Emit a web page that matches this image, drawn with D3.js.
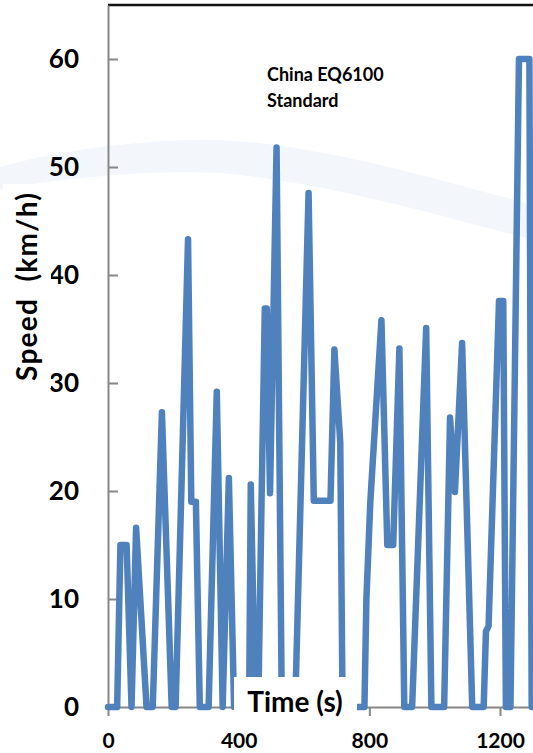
<!DOCTYPE html>
<html>
<head>
<meta charset="utf-8">
<script src="https://cdn.jsdelivr.net/npm/d3@7"></script>
<style>
  body { margin: 0; background: #fff; }
  text { font-family: Lato, "Open Sans", sans-serif; font-weight: bold; }
</style>
</head>
<body>
<div id="chart"></div>
<script>
/* China EQ6100 drive cycle: speed vs time */

// data
const timeS = [0, 28, 38, 57, 72, 86, 118, 137, 165, 195, 207, 245, 255, 269, 281, 308, 333, 351, 370, 386,
    432, 437, 451, 460, 470, 480, 486, 496, 516, 532, 573, 614, 630, 681, 693, 711, 718, 785, 791, 803,
    837, 855, 873, 892, 907, 931, 974, 990, 1029, 1047, 1062, 1084, 1115, 1150, 1157, 1165, 1197, 1210, 1218, 1232,
    1258, 1290, 1297, 1320];
const speedKmh = [0, 0, 15, 15, 0, 16.6, 0, 0, 27.3, 0, 0, 43.3, 19, 19, 0, 0, 29.2, 0, 21.2, 0,
    0, 20.6, 0, 0, 19, 36.9, 36.9, 19.8, 51.8, 0, 0, 47.6, 19.1, 19.1, 33.1, 24.5, 0, 0, 10, 19,
    35.8, 15, 15, 33.2, 0, 0, 35.1, 0, 0, 26.8, 19.9, 33.7, 0, 0, 7, 7.5, 37.6, 37.6, 0, 0,
    60, 60, 0, 0];
const xTicks = [0, 400, 800, 1200];
const yTicks = [0, 10, 20, 30, 40, 50, 60];
const titleLines = ["China EQ6100", "Standard"];

const data = timeS.map((t, i) => ({ t: t, v: speedKmh[i] }));

const width = 533,
      height = 753;

let svg = d3.select("#chart")
    .append("svg")
    .attr("width", width)
    .attr("height", height);

let x = d3.scaleLinear()
    .domain([0, 1400])
    .range([108, 108 + 1400 * 0.32667]); // plot runs off the right edge

let y = d3.scaleLinear()
    .domain([0, 65])
    .range([707, 5]);

// faint watermark swoosh in the background
svg.append("path")
    .attr("d", "M0,167 C60,150 150,138 220,140 C320,145 420,175 533,205 L533,240 C420,210 320,182 220,173 C150,170 60,178 0,190 Z")
    .attr("fill", "#eef3f9")
    .attr("opacity", 0.7);

// top border
svg.append("line")
    .attr("x1", x(0)).attr("x2", width + 20)
    .attr("y1", y(65)).attr("y2", y(65))
    .attr("stroke", "#111")
    .attr("stroke-width", 2.5);

// axes
let yAxis = svg.append("g")
    .attr("transform", `translate(${x(0)},0)`)
    .call(d3.axisLeft(y).tickValues(yTicks).tickSize(-10).tickSizeOuter(0).tickPadding(29));

let xAxis = svg.append("g")
    .attr("transform", `translate(0,${y(0)})`)
    .call(d3.axisBottom(x).tickValues(xTicks).tickFormat(d3.format("d"))
        .tickSize(9).tickSizeOuter(0).tickPadding(17));

for (let ax of [xAxis, yAxis]) {
    ax.selectAll("path, line").attr("stroke", "#878787").attr("stroke-width", 2);
    ax.selectAll("text").attr("fill", "#000").style("font-family", "Lato, sans-serif").style("font-weight", "bold");
}
yAxis.selectAll("text").style("font-size", "26px");
xAxis.selectAll("text").style("font-size", "21px");

// speed line
let line = d3.line()
    .x(d => x(d.t))
    .y(d => y(d.v));

svg.append("path")
    .datum(data)
    .attr("d", line)
    .attr("fill", "none")
    .attr("stroke", "#4f81bd")
    .attr("stroke-width", 6.5)
    .attr("stroke-linejoin", "round")
    .attr("stroke-linecap", "round");

// title inside the plot
svg.append("text")
    .attr("x", 267)
    .attr("y", 81)
    .style("font-size", "18px")
    .selectAll("tspan")
    .data(titleLines)
    .join("tspan")
    .attr("x", 267)
    .attr("dy", (d, i) => i ? 26 : 0)
    .text(d => d);

// y axis title on a white box
svg.append("rect")
    .attr("x", 3).attr("y", 184)
    .attr("width", 48).attr("height", 204)
    .attr("fill", "#fff");

svg.append("text")
    .attr("transform", "translate(37,287) rotate(-90)")
    .attr("text-anchor", "middle")
    .attr("textLength", 188)
    .attr("lengthAdjust", "spacing")
    .style("font-size", "28px")
    .style("white-space", "pre")
    .text("Speed  (km/h)");

// x axis title on a white box, covering the line
svg.append("rect")
    .attr("x", 234).attr("y", 677)
    .attr("width", 123).attr("height", 44)
    .attr("fill", "#fff");

svg.append("text")
    .attr("x", 295)
    .attr("y", 712)
    .attr("text-anchor", "middle")
    .style("font-size", "28px")
    .text("Time (s)");
</script>
</body>
</html>
